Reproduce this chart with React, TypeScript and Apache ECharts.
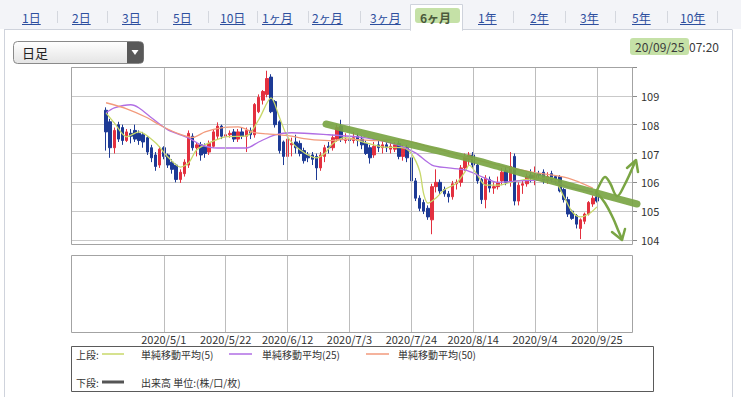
import React, { useEffect, useRef } from "react";
import * as echarts from "echarts";

const FONT = '"Noto Sans CJK JP","Noto Sans",sans-serif';

// ---------- texts ----------
const periodTabs = ["1日", "2日", "3日", "5日", "10日", "1ヶ月", "2ヶ月", "3ヶ月", "6ヶ月", "1年", "2年", "3年", "5年", "10年"];
const selectedTab = "6ヶ月";
const timeframeLabel = "日足";
const stampDate = "20/09/25";
const stampTime = "07:20";
const legendUpper = "上段:";
const legendLower = "下段:";
const maNames = ["単純移動平均(5)", "単純移動平均(25)", "単純移動平均(50)"];
const volumeName = "出来高 単位:(株/口/枚)";

// ---------- axis ----------
const axisStart = "2020-04-01";
const axisEnd = "2020-10-07";
const dateTicks = ["2020/5/1", "2020/5/22", "2020/6/12", "2020/7/3", "2020/7/24", "2020/8/14", "2020/9/4", "2020/9/25"];
const priceTicks = [104, 105, 106, 107, 108, 109];

// ---------- daily candles: date, open, close, low, high ----------
const dailyCandles: [string, number, number, number, number][] = [
  ["2020/4/13", 108.5, 107.75, 107.1, 108.6],
  ["2020/4/14", 108.1, 107.2, 106.85, 108.2],
  ["2020/4/15", 107.2, 107.8, 107.0, 107.9],
  ["2020/4/16", 108.0, 107.5, 107.4, 108.1],
  ["2020/4/17", 107.9, 107.45, 107.3, 108.0],
  ["2020/4/20", 107.45, 107.75, 107.4, 107.85],
  ["2020/4/21", 107.7, 107.6, 107.35, 107.85],
  ["2020/4/22", 107.8, 107.5, 107.4, 108.0],
  ["2020/4/23", 107.7, 107.45, 107.3, 107.8],
  ["2020/4/24", 107.65, 107.4, 107.2, 107.75],
  ["2020/4/27", 107.55, 107.05, 106.95, 107.6],
  ["2020/4/28", 107.2, 106.85, 106.7, 107.3],
  ["2020/4/29", 106.95, 106.55, 106.4, 107.05],
  ["2020/4/30", 106.6, 107.15, 106.5, 107.25],
  ["2020/5/1", 107.2, 106.9, 106.8, 107.25],
  ["2020/5/4", 106.95, 106.6, 106.5, 107.0],
  ["2020/5/5", 106.7, 106.45, 106.3, 106.8],
  ["2020/5/6", 106.6, 106.1, 106.0, 106.65],
  ["2020/5/7", 106.1, 106.35, 105.98, 106.45],
  ["2020/5/8", 106.3, 106.7, 106.2, 106.8],
  ["2020/5/11", 106.6, 107.7, 106.5, 107.8],
  ["2020/5/12", 107.6, 107.2, 107.1, 107.7],
  ["2020/5/13", 107.2, 107.3, 106.9, 107.4],
  ["2020/5/14", 107.3, 106.95, 106.75, 107.4],
  ["2020/5/15", 107.25, 107.0, 106.85, 107.35],
  ["2020/5/18", 107.05, 107.35, 106.95, 107.45],
  ["2020/5/19", 107.25, 107.75, 107.2, 107.85],
  ["2020/5/20", 107.6, 107.95, 107.5, 108.08],
  ["2020/5/21", 107.95, 107.6, 107.5, 108.0],
  ["2020/5/22", 107.6, 107.65, 107.45, 107.75],
  ["2020/5/25", 107.65, 107.7, 107.55, 107.8],
  ["2020/5/26", 107.75, 107.5, 107.4, 107.85],
  ["2020/5/27", 107.5, 107.75, 107.4, 107.85],
  ["2020/5/28", 107.75, 107.6, 107.5, 107.9],
  ["2020/5/29", 107.6, 107.8, 107.05, 107.9],
  ["2020/6/1", 107.8, 107.65, 107.5, 107.9],
  ["2020/6/2", 107.65, 108.7, 107.55, 108.75],
  ["2020/6/3", 108.45, 108.95, 108.4, 109.05],
  ["2020/6/4", 108.85, 109.15, 108.7, 109.2],
  ["2020/6/5", 109.05, 109.6, 108.95, 109.87],
  ["2020/6/8", 109.65, 108.45, 108.4, 109.75],
  ["2020/6/9", 108.8, 108.0, 107.9, 108.85],
  ["2020/6/10", 108.1, 107.1, 107.0, 108.15],
  ["2020/6/11", 107.4, 106.9, 106.6, 107.45],
  ["2020/6/12", 106.9, 107.5, 106.85, 107.6],
  ["2020/6/15", 107.3, 107.35, 106.9, 107.55],
  ["2020/6/16", 107.4, 107.2, 107.0, 107.65],
  ["2020/6/17", 107.35, 107.0, 106.9, 107.45],
  ["2020/6/18", 107.1, 106.75, 106.65, 107.2],
  ["2020/6/19", 106.95, 106.85, 106.7, 107.05],
  ["2020/6/22", 106.95, 106.8, 106.6, 107.05],
  ["2020/6/23", 106.9, 106.5, 106.08, 107.0],
  ["2020/6/24", 106.5, 106.95, 106.4, 107.05],
  ["2020/6/25", 106.9, 107.2, 106.7, 107.3],
  ["2020/6/26", 107.25, 107.2, 107.0, 107.4],
  ["2020/6/29", 107.2, 107.55, 107.1, 107.65],
  ["2020/6/30", 107.5, 107.9, 107.4, 108.0],
  ["2020/7/1", 107.95, 107.5, 107.4, 108.17],
  ["2020/7/2", 107.45, 107.5, 107.35, 107.7],
  ["2020/7/3", 107.5, 107.45, 107.35, 107.6],
  ["2020/7/6", 107.45, 107.55, 107.35, 107.75],
  ["2020/7/7", 107.6, 107.45, 107.25, 107.7],
  ["2020/7/8", 107.5, 107.3, 107.15, 107.6],
  ["2020/7/9", 107.35, 107.0, 106.95, 107.45],
  ["2020/7/10", 107.2, 106.85, 106.65, 107.3],
  ["2020/7/13", 106.95, 107.25, 106.85, 107.4],
  ["2020/7/14", 107.3, 107.2, 107.05, 107.45],
  ["2020/7/15", 107.2, 107.3, 107.0, 107.45],
  ["2020/7/16", 107.3, 107.2, 107.05, 107.4],
  ["2020/7/17", 107.15, 107.25, 107.0, 107.4],
  ["2020/7/20", 107.15, 107.3, 107.05, 107.4],
  ["2020/7/21", 107.35, 106.9, 106.8, 107.45],
  ["2020/7/22", 106.9, 107.2, 106.75, 107.3],
  ["2020/7/23", 107.2, 106.85, 106.7, 107.3],
  ["2020/7/24", 106.85, 106.05, 105.95, 106.95],
  ["2020/7/27", 106.05, 105.45, 105.35, 106.15],
  ["2020/7/28", 105.45, 105.1, 105.0, 105.55],
  ["2020/7/29", 105.3, 105.0, 104.9, 105.4],
  ["2020/7/30", 105.1, 104.8, 104.7, 105.2],
  ["2020/7/31", 104.7, 105.85, 104.2, 105.95],
  ["2020/8/3", 105.85, 106.0, 105.65, 106.45],
  ["2020/8/4", 106.0, 105.7, 105.6, 106.1],
  ["2020/8/5", 105.75, 105.6, 105.5, 105.85],
  ["2020/8/6", 105.6, 105.5, 105.3, 105.7],
  ["2020/8/7", 105.5, 105.95, 105.4, 106.05],
  ["2020/8/10", 105.95, 106.0, 105.75, 106.1],
  ["2020/8/11", 106.0, 106.5, 105.85, 106.6],
  ["2020/8/12", 106.5, 106.9, 106.4, 107.0],
  ["2020/8/13", 106.8, 106.95, 106.6, 107.05],
  ["2020/8/14", 106.95, 106.6, 106.5, 107.05],
  ["2020/8/17", 106.6, 106.05, 105.95, 106.65],
  ["2020/8/18", 106.1, 105.4, 105.25, 106.15],
  ["2020/8/19", 105.4, 106.15, 105.1, 106.25],
  ["2020/8/20", 106.1, 105.8, 105.65, 106.2],
  ["2020/8/21", 105.8, 105.85, 105.6, 106.0],
  ["2020/8/24", 105.85, 106.0, 105.75, 106.2],
  ["2020/8/25", 106.05, 106.35, 105.9, 106.5],
  ["2020/8/26", 106.4, 106.0, 105.9, 106.55],
  ["2020/8/27", 106.0, 106.55, 105.85, 107.05],
  ["2020/8/28", 106.9, 105.35, 105.2, 107.0],
  ["2020/8/31", 105.35, 105.9, 105.2, 106.0],
  ["2020/9/1", 105.9, 105.95, 105.6, 106.05],
  ["2020/9/2", 105.95, 106.2, 105.85, 106.3],
  ["2020/9/3", 106.25, 106.15, 106.0, 106.45],
  ["2020/9/4", 106.15, 106.25, 105.9, 106.55],
  ["2020/9/7", 106.3, 106.25, 106.15, 106.4],
  ["2020/9/8", 106.35, 106.05, 105.95, 106.45],
  ["2020/9/9", 106.05, 106.2, 105.95, 106.35],
  ["2020/9/10", 106.3, 106.1, 106.0, 106.4],
  ["2020/9/11", 106.2, 106.1, 105.95, 106.25],
  ["2020/9/14", 106.2, 105.7, 105.65, 106.25],
  ["2020/9/15", 105.75, 105.4, 105.3, 105.8],
  ["2020/9/16", 105.4, 104.9, 104.8, 105.5],
  ["2020/9/17", 105.0, 104.75, 104.7, 105.05],
  ["2020/9/18", 104.85, 104.55, 104.4, 104.9],
  ["2020/9/21", 104.4, 104.7, 104.03, 104.75],
  ["2020/9/22", 104.65, 104.9, 104.55, 104.95],
  ["2020/9/23", 104.9, 105.3, 104.85, 105.35],
  ["2020/9/24", 105.25, 105.45, 105.15, 105.55],
  ["2020/9/25", 105.5, 105.35, 105.3, 105.6],
];

// ---------- moving averages ----------
const ma5: [string, number][] = [
  ["2020/4/13", 108.41], ["2020/4/15", 108.06], ["2020/4/20", 107.58], ["2020/4/23", 107.75],
  ["2020/4/29", 107.37], ["2020/5/4", 106.88], ["2020/5/7", 106.53], ["2020/5/11", 106.67],
  ["2020/5/13", 107.13], ["2020/5/18", 107.37], ["2020/5/22", 107.58], ["2020/5/29", 107.61],
  ["2020/6/3", 108.17], ["2020/6/8", 108.93], ["2020/6/10", 108.27], ["2020/6/12", 107.58],
  ["2020/6/17", 107.13], ["2020/6/23", 106.85], ["2020/6/25", 107.0], ["2020/6/29", 107.35],
  ["2020/7/2", 107.55], ["2020/7/9", 107.37], ["2020/7/15", 107.23], ["2020/7/22", 107.2],
  ["2020/7/24", 107.0], ["2020/7/28", 106.4], ["2020/7/29", 105.6], ["2020/7/30", 105.28],
  ["2020/8/3", 105.46], ["2020/8/5", 105.74], ["2020/8/10", 105.98], ["2020/8/12", 106.36],
  ["2020/8/13", 106.6], ["2020/8/17", 106.26], ["2020/8/19", 105.9], ["2020/8/24", 105.9],
  ["2020/8/27", 106.0], ["2020/9/2", 106.1], ["2020/9/10", 106.15], ["2020/9/15", 105.5],
  ["2020/9/17", 104.98], ["2020/9/21", 104.8], ["2020/9/23", 104.9], ["2020/9/25", 105.15],
];
const ma25: [string, number][] = [
  ["2020/4/13", 108.41], ["2020/4/15", 108.58], ["2020/4/21", 108.69], ["2020/4/23", 108.58],
  ["2020/4/28", 108.24], ["2020/5/4", 107.82], ["2020/5/11", 107.54], ["2020/5/14", 107.3],
  ["2020/5/20", 107.19], ["2020/5/29", 107.19], ["2020/6/3", 107.4], ["2020/6/9", 107.65],
  ["2020/6/15", 107.72], ["2020/6/26", 107.65], ["2020/7/9", 107.54], ["2020/7/21", 107.28],
  ["2020/7/27", 107.02], ["2020/7/31", 106.6], ["2020/8/6", 106.5], ["2020/8/12", 106.43],
  ["2020/8/18", 106.2], ["2020/8/24", 106.0], ["2020/8/31", 106.05], ["2020/9/9", 106.08],
  ["2020/9/16", 105.84], ["2020/9/24", 105.67],
];
const ma50: [string, number][] = [
  ["2020/4/13", 108.76], ["2020/4/20", 108.55], ["2020/4/27", 108.24], ["2020/4/30", 107.99],
  ["2020/5/6", 107.72], ["2020/5/12", 107.56], ["2020/5/15", 107.75], ["2020/5/21", 107.89],
  ["2020/5/27", 107.92], ["2020/6/2", 107.72], ["2020/6/5", 107.68], ["2020/6/12", 107.62],
  ["2020/6/19", 107.5], ["2020/6/26", 107.45], ["2020/7/3", 107.5], ["2020/7/13", 107.45],
  ["2020/7/21", 107.47], ["2020/7/31", 107.2], ["2020/8/12", 106.88], ["2020/8/24", 106.6],
  ["2020/9/3", 106.36], ["2020/9/16", 106.15], ["2020/9/24", 105.8],
];

// ---------- colours ----------
const UP = "#e3303f";
const DOWN = "#1d3a95";
const MA_COLORS = ["#c8d86a", "#b06ee4", "#f29a7c"];
const GREEN = "#7aa544";

function weekdays(from: string, to: string): string[] {
  const out: string[] = [];
  const d = new Date(from + "T00:00:00");
  const end = new Date(to + "T00:00:00");
  while (d <= end) {
    const wd = d.getDay();
    if (wd !== 0 && wd !== 6) out.push(`${d.getFullYear()}/${d.getMonth() + 1}/${d.getDate()}`);
    d.setDate(d.getDate() + 1);
  }
  return out;
}

function textWidth(s: string, fs: number) {
  let w = 0;
  for (const ch of s) w += /[\x00-\x7f]/.test(ch) ? fs * 0.56 : fs;
  return w;
}

export default function App() {
  const ref = useRef<HTMLDivElement>(null);

  useEffect(() => {
    document.body.style.margin = "0";
    const chart = echarts.init(ref.current!, undefined, { renderer: "svg" });
    const cats = weekdays(axisStart, axisEnd);
    const idx = (d: string) => cats.indexOf(d);

    const candleData = dailyCandles.map(([d, o, c, l, h]) => [idx(d), o, c, l, h]);
    const maData = [ma5, ma25, ma50].map((arr) => arr.map(([d, v]) => [idx(d), v]));
    const tickSet = new Set(dateTicks.map(idx));

    const gridLine = () => ({
      silent: true,
      symbol: ["none", "none"],
      label: { show: false },
      lineStyle: { color: "#bdbdbd", type: "solid", width: 1 },
      data: dateTicks.map((d) => ({ xAxis: idx(d) })),
    });

    const g: any[] = [];
    // tab bar
    g.push({ type: "rect", z: -10, shape: { x: 0, y: 0, width: 741, height: 29 }, style: { fill: "#f3f4f8" } });
    g.push({ type: "line", z: -9, shape: { x1: 4, y1: 29.5, x2: 732, y2: 29.5 }, style: { stroke: "#cfd3dc", lineWidth: 1 } });
    g.push({ type: "rect", z: -8, shape: { x: 410.5, y: 4.5, width: 52, height: 26 }, style: { fill: "#ffffff", stroke: "#cfd3dc", lineWidth: 1 } });
    g.push({ type: "line", z: -7, shape: { x1: 411, y1: 30, x2: 462, y2: 30 }, style: { stroke: "#ffffff", lineWidth: 2 } });
    g.push({ type: "line", z: -9, shape: { x1: 4.5, y1: 29.5, x2: 4.5, y2: 397 }, style: { stroke: "#cfd3dc", lineWidth: 1 } });
    g.push({ type: "line", z: -9, shape: { x1: 732.5, y1: 29.5, x2: 732.5, y2: 397 }, style: { stroke: "#cfd3dc", lineWidth: 1 } });

    const tabX = [22, 72, 122, 173, 220, 262, 312, 370, 420, 478, 530, 580, 632, 680];
    const sepX = [57, 107, 157, 208, 257, 308, 360, 513, 565, 615, 667, 717];
    sepX.forEach((x) =>
      g.push({ type: "line", z: -6, shape: { x1: x + 0.5, y1: 11, x2: x + 0.5, y2: 23 }, style: { stroke: "#d4d7de", lineWidth: 1 } })
    );
    periodTabs.forEach((t, i) => {
      const sel = t === selectedTab;
      if (sel) {
        g.push({ type: "rect", z: 4, shape: { x: 415, y: 8, width: 45, height: 15, r: 3 }, style: { fill: "rgba(150,200,95,0.55)" } });
      }
      g.push({
        type: "text", z: 6, x: tabX[i], y: 17,
        style: { text: t, fontSize: 12, fontFamily: FONT, fontWeight: sel ? "bold" : "normal", fill: sel ? "#4b5a3c" : "#2d4f9e", textVerticalAlign: "middle", verticalAlign: "middle" },
      });
      if (!sel) {
        g.push({ type: "line", z: 6, shape: { x1: tabX[i], y1: 24.5, x2: tabX[i] + textWidth(t, 12), y2: 24.5 }, style: { stroke: "#2d4f9e", lineWidth: 1 } });
      }
    });

    // dropdown
    g.push({
      type: "rect", z: 3, shape: { x: 13.5, y: 41.5, width: 130, height: 22, r: 4 },
      style: { fill: new echarts.graphic.LinearGradient(0, 0, 0, 1, [{ offset: 0, color: "#ffffff" }, { offset: 1, color: "#e4e4e4" }]), stroke: "#8a8a8a", lineWidth: 1 },
    });
    g.push({ type: "rect", z: 4, shape: { x: 127, y: 42, width: 16.5, height: 21, r: [0, 3.5, 3.5, 0] }, style: { fill: "#595959" } });
    g.push({ type: "polygon", z: 5, shape: { points: [[131.5, 50], [138.5, 50], [135, 55]] }, style: { fill: "#ffffff" } });
    g.push({ type: "text", z: 5, x: 22, y: 52.5, style: { text: timeframeLabel, fontSize: 13, fontFamily: FONT, fill: "#222", textVerticalAlign: "middle", verticalAlign: "middle" } });

    // timestamp
    g.push({ type: "rect", z: 4, shape: { x: 630, y: 38, width: 59, height: 17, r: 3 }, style: { fill: "rgba(150,200,95,0.55)" } });
    g.push({ type: "text", z: 6, x: 635, y: 46.5, style: { text: stampDate, fontSize: 12, fontFamily: FONT, fill: "#3a3a3a", textVerticalAlign: "middle", verticalAlign: "middle" } });
    g.push({ type: "text", z: 6, x: 689, y: 46.5, style: { text: stampTime, fontSize: 12, fontFamily: FONT, fill: "#3a3a3a", textVerticalAlign: "middle", verticalAlign: "middle" } });

    // pane borders
    g.push({ type: "rect", z: 8, shape: { x: 71.5, y: 67.5, width: 561, height: 177 }, style: { fill: "none", stroke: "#a3a3a3", lineWidth: 1 } });
    g.push({ type: "rect", z: 8, shape: { x: 71.5, y: 255.5, width: 561, height: 77 }, style: { fill: "none", stroke: "#a3a3a3", lineWidth: 1 } });

    // legend box
    g.push({ type: "rect", z: 3, shape: { x: 71.5, y: 346.5, width: 582, height: 45 }, style: { fill: "#ffffff", stroke: "#5a5a5a", lineWidth: 1 } });
    const legendTxt = (text: string, x: number, y: number) =>
      g.push({ type: "text", z: 5, x, y, style: { text, fontSize: 10, lineHeight: 11, fontFamily: FONT, fill: "#333", textVerticalAlign: "middle", verticalAlign: "middle" } });
    legendTxt(legendUpper, 76, 354);
    legendTxt(legendLower, 76, 382);
    const legX = [[102, 124, 141], [229, 252, 262], [366, 389, 398]];
    maNames.forEach((n, i) => {
      g.push({ type: "line", z: 5, shape: { x1: legX[i][0], y1: 354, x2: legX[i][1], y2: 354 }, style: { stroke: MA_COLORS[i], lineWidth: 1.5 } });
      legendTxt(n, legX[i][2], 354);
    });
    g.push({ type: "line", z: 5, shape: { x1: 102, y1: 382, x2: 124, y2: 382 }, style: { stroke: "#555", lineWidth: 3 } });
    legendTxt(volumeName, 141, 382);

    // hand-drawn green annotations
    g.push({
      type: "polyline", z: 20,
      shape: { points: [[326, 124], [340, 127.5], [400, 142], [467, 158], [500, 167], [533, 176], [567, 185], [600, 194], [637, 204]], smooth: 0.3 },
      style: { stroke: GREEN, lineWidth: 7, lineCap: "round", opacity: 0.92, fill: "none" },
    });
    g.push({
      type: "polyline", z: 20,
      shape: { points: [[596, 193], [600, 184], [605, 177], [610, 183], [617, 196], [624, 186], [635, 162]], smooth: 0.4 },
      style: { stroke: GREEN, lineWidth: 2.5, lineCap: "round", fill: "none" },
    });
    g.push({ type: "polyline", z: 20, shape: { points: [[627, 168], [636, 160], [638, 172]] }, style: { stroke: GREEN, lineWidth: 2.5, lineCap: "round", lineJoin: "round", fill: "none" } });
    g.push({
      type: "polyline", z: 20,
      shape: { points: [[597, 193], [605, 203], [613, 218], [618, 230], [622, 239]], smooth: 0.4 },
      style: { stroke: GREEN, lineWidth: 2.5, lineCap: "round", fill: "none" },
    });
    g.push({ type: "polyline", z: 20, shape: { points: [[612, 232], [622, 240], [625, 229]] }, style: { stroke: GREEN, lineWidth: 2.5, lineCap: "round", lineJoin: "round", fill: "none" } });

    chart.setOption({
      animation: false,
      textStyle: { fontFamily: FONT },
      grid: [
        { left: 71, top: 67, width: 561, height: 173 },
        { left: 71, top: 255, width: 561, height: 77 },
      ],
      xAxis: [
        {
          type: "category", gridIndex: 0, data: cats, boundaryGap: true,
          axisLine: { show: false }, axisTick: { show: false }, axisLabel: { show: false }, splitLine: { show: false },
        },
        {
          type: "category", gridIndex: 1, data: cats, boundaryGap: true,
          axisLine: { show: false }, axisTick: { show: false }, splitLine: { show: false },
          axisLabel: { show: true, interval: (i: number) => tickSet.has(i), color: "#333", fontSize: 11, lineHeight: 12, margin: 1, fontFamily: FONT },
        },
      ],
      yAxis: [
        {
          type: "value", gridIndex: 0, position: "right", min: 104, max: 110, interval: 1,
          axisLine: { show: false },
          axisTick: { show: true, length: 5, lineStyle: { color: "#8c8c8c" } },
          axisLabel: { margin: 9, color: "#333", fontSize: 11, formatter: (v: number) => (priceTicks.includes(v) ? String(v) : "") },
          splitLine: { show: true, lineStyle: { color: "#c9c9c9", width: 1 } },
        },
        { type: "value", gridIndex: 1, min: 0, max: 1, show: false, splitLine: { show: false } },
      ],
      series: [
        {
          type: "candlestick", xAxisIndex: 0, yAxisIndex: 0,
          data: candleData, encode: { x: 0, y: [1, 2, 3, 4] },
          barWidth: 3,
          itemStyle: { color: UP, color0: DOWN, borderColor: UP, borderColor0: DOWN, borderWidth: 1 },
          markLine: gridLine(),
          z: 3,
        },
        ...maData.map((d, i) => ({
          type: "line", xAxisIndex: 0, yAxisIndex: 0, data: d, showSymbol: false, symbol: "none",
          lineStyle: { color: MA_COLORS[i], width: 1.3 }, smooth: 0.3, z: 4,
        })),
        {
          type: "line", xAxisIndex: 1, yAxisIndex: 1, data: [], showSymbol: false,
          markLine: gridLine(),
        },
      ],
      graphic: { elements: g },
    });
    return () => chart.dispose();
  }, []);

  return <div ref={ref} style={{ width: 741, height: 397, position: "relative", background: "#fff" }} />;
}
